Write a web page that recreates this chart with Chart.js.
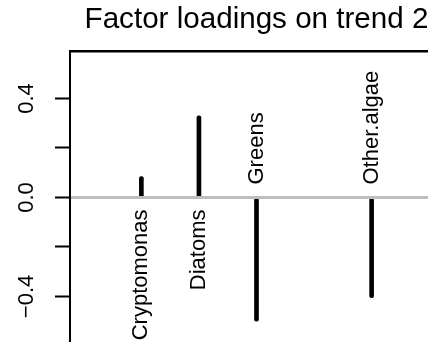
<!DOCTYPE html>
<html>
<head>
<meta charset="utf-8">
<title>Factor loadings on trend 2</title>
<script src="https://cdn.jsdelivr.net/npm/chart.js@4"></script>
<style>
  html, body { margin: 0; padding: 0; background: #fff; overflow: hidden; }
  #chart { display: block; }
</style>
</head>
<body>
<canvas id="chart" width="443" height="342"></canvas>
<script>
const categories = ["Cryptomonas", "Diatoms", "Greens", "Other.algae"];
const positions = [1, 2, 3, 5];
const loadings = [0.085, 0.33, -0.5, -0.405];
const yTicks = [-0.4, -0.2, 0.0, 0.2, 0.4];
const yTickLabels = ["\u22120.4", "", "0.0", "", "0.4"];

const FONT = "'Liberation Sans', Arial, Helvetica, sans-serif";
Chart.defaults.font.family = FONT;
Chart.defaults.color = "#000";

const points = positions.map((p, i) => ({ x: p, y: loadings[i] }));

const decorations = {
  id: "decorations",
  afterDatasetsDraw(chart) {
    const ctx = chart.ctx;
    const area = chart.chartArea;
    const xs = chart.scales.x;
    const ys = chart.scales.y;
    const zero = ys.getPixelForValue(0);

    // gray line at zero, drawn over the bars
    ctx.save();
    ctx.strokeStyle = "#bebebe";
    ctx.lineWidth = 3;
    ctx.beginPath();
    ctx.moveTo(area.left + 1, zero);
    ctx.lineTo(area.right, zero);
    ctx.stroke();
    ctx.restore();

    // species names, below zero for positive loadings, above for negative
    ctx.save();
    ctx.font = "22px " + FONT;
    ctx.fillStyle = "#000";
    ctx.textBaseline = "middle";
    categories.forEach((name, i) => {
      const x = xs.getPixelForValue(positions[i]);
      const pos = loadings[i] > 0;
      ctx.save();
      ctx.translate(x, pos ? zero + 12 : zero - 13);
      ctx.rotate(-Math.PI / 2);
      ctx.textAlign = pos ? "right" : "left";
      ctx.fillText(name, 0, 0);
      ctx.restore();
    });
    ctx.restore();
  },
  afterDraw(chart) {
    const ctx = chart.ctx;
    const ys = chart.scales.y;
    ctx.save();
    ctx.font = "22px " + FONT;
    ctx.fillStyle = "#000";
    ctx.textAlign = "center";
    ctx.textBaseline = "alphabetic";
    yTicks.forEach((v, i) => {
      if (!yTickLabels[i]) return;
      ctx.save();
      ctx.translate(33, ys.getPixelForValue(v));
      ctx.rotate(-Math.PI / 2);
      ctx.fillText(yTickLabels[i], 0, 0);
      ctx.restore();
    });
    ctx.restore();
  },
};

const chart = new Chart(document.getElementById("chart"), {
  type: "bar",
  data: {
    datasets: [
      {
        data: points,
        backgroundColor: "#000",
        borderWidth: 0,
        barThickness: 4,
        borderRadius: 2,
        borderSkipped: false,
      },
    ],
  },
  options: {
    responsive: false,
    animation: false,
    layout: { padding: 0 },
    plugins: {
      legend: { display: false },
      tooltip: { enabled: false },
      title: {
        display: true,
        text: "Factor loadings on trend 2",
        fullSize: false,
        color: "#000",
        font: { size: 29.6, weight: "normal", lineHeight: 1 },
        padding: { top: 5.5, bottom: 15.9 },
      },
    },
    scales: {
      x: {
        type: "linear",
        position: "top",
        min: -0.24,
        max: 6.24,
        offset: false,
        ticks: { display: false },
        grid: { display: false, drawTicks: false, offset: false },
        border: { display: true, color: "#000", width: 2.5 },
        afterFit: (s) => { s.height = 0; },
      },
      y: {
        min: -0.584,
        max: 0.592,
        afterBuildTicks: (s) => { s.ticks = yTicks.map((v) => ({ value: v })); },
        ticks: { display: false },
        grid: {
          drawOnChartArea: false,
          drawTicks: true,
          tickLength: 15,
          tickWidth: 2,
          tickColor: "#000",
        },
        border: { display: true, color: "#000", width: 2 },
        afterFit: (s) => { s.width = 70; },
      },
    },
  },
  plugins: [decorations],
});
</script>
</body>
</html>
